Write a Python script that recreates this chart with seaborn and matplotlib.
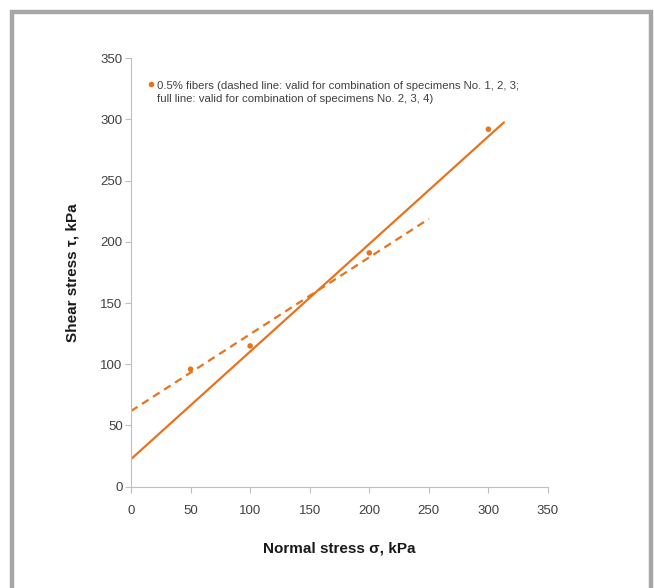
import numpy as np
import pandas as pd
import matplotlib
matplotlib.use("Agg")
import matplotlib.pyplot as plt
from matplotlib.patches import Rectangle
import seaborn as sns

# Direct shear results, 0.5% fibers
normal_stress = [50, 100, 200, 300]        # sigma, kPa
shear_stress = [96, 115, 191, 292]         # tau, kPa

# Failure envelopes tau = c + sigma * tan(phi)
envelope_names = ["specimens 1, 2, 3", "specimens 2, 3, 4"]
cohesion = [61.8, 22.5]                    # kPa
friction_slope = [0.628, 0.879]            # tan(phi)
envelope_sigma_max = [250, 313]            # kPa
envelope_styles = ["dashed", "full"]

x_ticks = [0, 50, 100, 150, 200, 250, 300, 350]
y_ticks = [0, 50, 100, 150, 200, 250, 300, 350]

legend_text = ("0.5% fibers (dashed line: valid for combination of specimens No. 1, 2, 3;\n"
               "full line: valid for combination of specimens No. 2, 3, 4)")

orange = "#E8731E"
text_gray = "#404040"
axis_gray = "#BFBFBF"

sns.set_theme(style="white")
plt.rcParams["font.family"] = ["Liberation Sans", "DejaVu Sans"]

fig = plt.figure(figsize=(6.54, 5.88), dpi=100)
fig.patch.set_facecolor("white")
ax = fig.add_axes([0.2003, 0.1723, 0.6376, 0.7286])

points = pd.DataFrame({"sigma": normal_stress, "tau": shear_stress})
sns.scatterplot(data=points, x="sigma", y="tau", ax=ax, color=orange,
                s=16, edgecolor="none", zorder=3, legend=False)

for name, c, m, smax, style in zip(envelope_names, cohesion, friction_slope,
                                    envelope_sigma_max, envelope_styles):
    sig = np.array([0.0, smax])
    env = pd.DataFrame({"sigma": sig, "tau": c + m * sig})
    line = sns.lineplot(data=env, x="sigma", y="tau", ax=ax, color=orange,
                        linewidth=1.6, legend=False)
    if style == "dashed":
        line.lines[-1].set_dashes((3.5, 2.4))

ax.set_xlim(0, 350)
ax.set_ylim(0, 350)
ax.set_xticks(x_ticks)
ax.set_yticks(y_ticks)
ax.tick_params(axis="both", labelsize=9.5, colors=axis_gray, labelcolor=text_gray,
               length=4, width=0.8, direction="out", bottom=True, left=True)
ax.tick_params(axis="x", pad=9)
ax.tick_params(axis="y", pad=2)
for side in ["top", "right"]:
    ax.spines[side].set_visible(False)
for side in ["left", "bottom"]:
    ax.spines[side].set_color(axis_gray)
    ax.spines[side].set_linewidth(0.8)
ax.grid(False)

ax.set_xlabel("Normal stress σ, kPa", fontsize=11, fontweight="bold",
              color="#1a1a1a", labelpad=18)
ax.set_ylabel("Shear stress τ, kPa", fontsize=11, fontweight="bold",
              color="#1a1a1a", labelpad=15)

# legend entry
ax.plot([0.048], [0.9405], transform=ax.transAxes, marker="o", ms=3,
        color=orange, linestyle="none", clip_on=False)
ax.text(0.062, 0.9465, legend_text, transform=ax.transAxes, fontsize=8.2,
        color=text_gray, va="top", ha="left", linespacing=1.32)

# chart-area border
fig.patches.append(Rectangle((0.0191, -0.05), 0.9763, 1.0304,
                             transform=fig.transFigure, fill=False,
                             edgecolor="#A6A6A6", linewidth=3.2))

fig.savefig("out.png", dpi=100, facecolor="white")
